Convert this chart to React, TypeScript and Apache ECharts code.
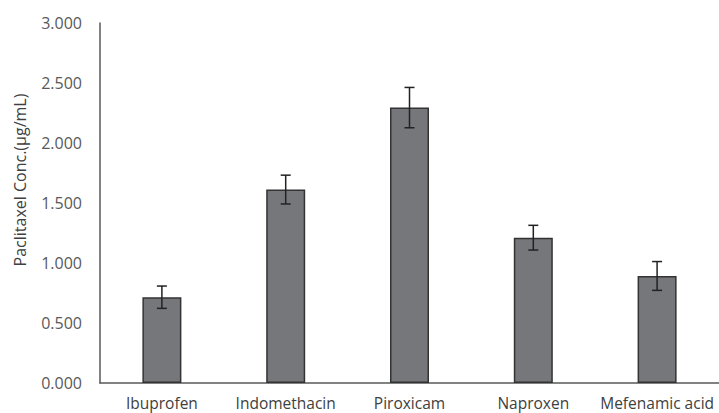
import React, { useEffect, useRef } from "react";
import * as echarts from "echarts";

const categories = ["Ibuprofen", "Indomethacin", "Piroxicam", "Naproxen", "Mefenamic acid"];
const means = [0.715, 1.612, 2.295, 1.211, 0.892];
const errors = [0.093, 0.12, 0.168, 0.103, 0.12];
const yTicks = [0, 0.5, 1, 1.5, 2, 2.5, 3];
const yName = "Paclitaxel Conc.(μg/mL)";

export default function App() {
  const ref = useRef<HTMLDivElement>(null);
  useEffect(() => {
    if (!ref.current) return;
    const chart = echarts.init(ref.current, undefined, { renderer: "svg" });
    const errData = means.map((m, i) => [i, m - errors[i], m + errors[i]]);
    chart.setOption({
      animation: false,
      backgroundColor: "#ffffff",
      grid: { left: 100, right: 0, top: 23, bottom: 30 },
      xAxis: {
        type: "category",
        data: categories,
        axisLine: { show: true, lineStyle: { color: "#595959", width: 1.5 } },
        axisTick: { show: false },
        axisLabel: {
          interval: 0,
          hideOverlap: false,
          color: "#404040",
          fontFamily: "Open Sans",
          fontSize: 15.5,
          lineHeight: 16,
          margin: 12,
        },
      },
      yAxis: {
        type: "value",
        min: yTicks[0],
        max: yTicks[yTicks.length - 1],
        interval: 0.5,
        axisLine: { show: true, lineStyle: { color: "#595959", width: 1.5 } },
        axisTick: { show: false },
        splitLine: { show: false },
        axisLabel: {
          color: "#595959",
          fontFamily: "Open Sans",
          fontSize: 16,
          margin: 18,
          formatter: (v: number) => v.toFixed(3),
        },
      },
      graphic: [
        {
          type: "text",
          x: 20,
          y: 180,
          rotation: Math.PI / 2,
          style: {
            text: yName,
            fill: "#404040",
            font: "16px 'Open Sans'",
            textAlign: "center",
            textVerticalAlign: "middle",
          },
        },
      ],
      series: [
        {
          type: "bar",
          data: means,
          barWidth: 39,
          itemStyle: { color: "#76777b", borderColor: "#333333", borderWidth: 1.5 },
        },
        {
          type: "custom",
          data: errData,
          z: 10,
          renderItem: (params: any, api: any) => {
            const x = api.value(0);
            const lo = api.coord([x, api.value(1)]);
            const hi = api.coord([x, api.value(2)]);
            const cap = 5;
            const style = { stroke: "#222222", lineWidth: 1.5 };
            return {
              type: "group",
              children: [
                { type: "line", shape: { x1: hi[0], y1: hi[1], x2: lo[0], y2: lo[1] }, style },
                { type: "line", shape: { x1: hi[0] - cap, y1: hi[1], x2: hi[0] + cap, y2: hi[1] }, style },
                { type: "line", shape: { x1: lo[0] - cap, y1: lo[1], x2: lo[0] + cap, y2: lo[1] }, style },
              ],
            };
          },
        },
      ],
    });
    return () => chart.dispose();
  }, []);
  return (
    <div
      ref={ref}
      style={{ position: "fixed", left: 0, top: 0, width: 719, height: 413 }}
    />
  );
}
